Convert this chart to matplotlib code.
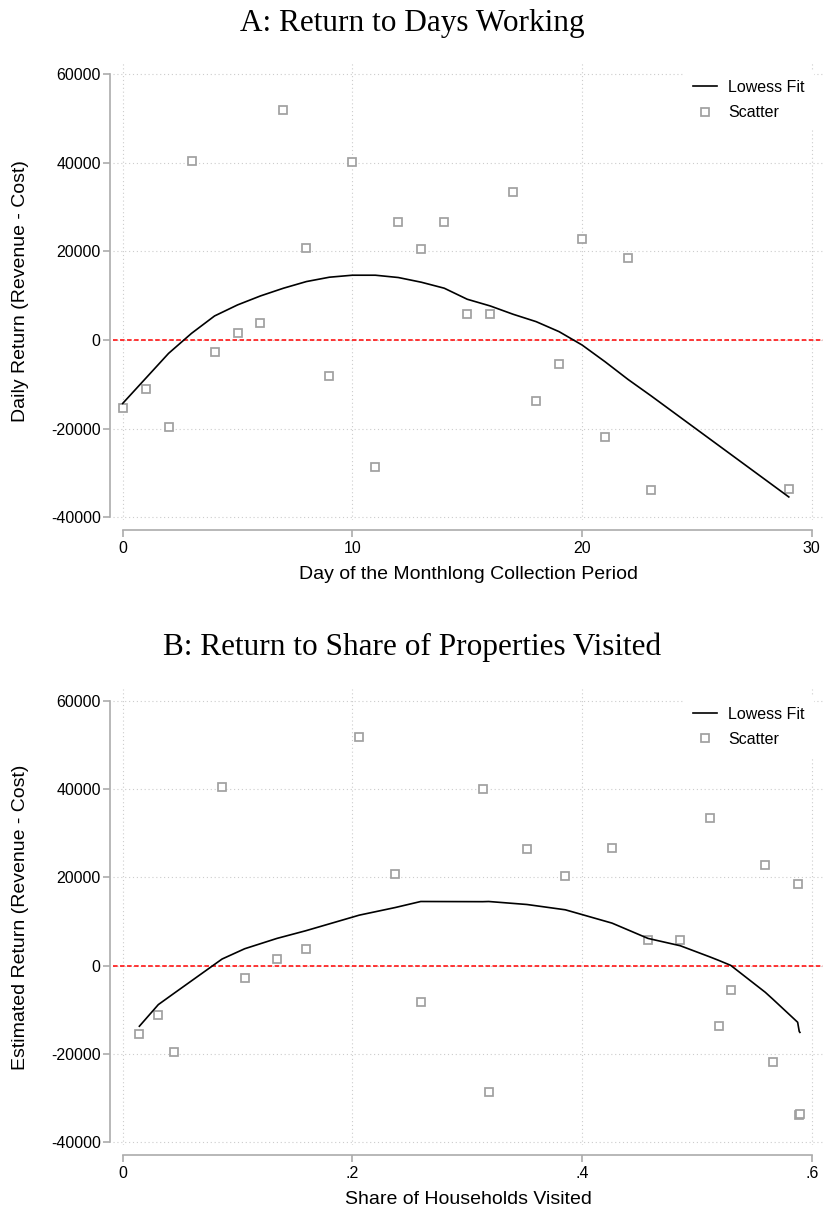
import matplotlib
matplotlib.use("Agg")
import matplotlib.pyplot as plt

# daily return (revenue - cost) by day of the collection period
day = [0, 1, 2, 3, 4, 5, 6, 7, 8, 9, 10, 11, 12, 13, 14, 15, 16, 17, 18, 19,
       20, 21, 22, 23, 29]
daily_return = [-15400, -11150, -19660, 40450, -2680, 1580, 3770, 51870, 20660,
                -8140, 40120, -28700, 26500, 20410, 26630, 5800, 5870, 33450,
                -13660, -5460, 22820, -21770, 18530, -33840, -33600]

# cumulative share of households visited on each of those days
share_visited = [0.0145, 0.0310, 0.0447, 0.0865, 0.1062, 0.1343, 0.1593, 0.2060,
                 0.2374, 0.2595, 0.3134, 0.3187, 0.3520, 0.3854, 0.4261, 0.4574,
                 0.4855, 0.5116, 0.5189, 0.5294, 0.5595, 0.5659, 0.5877, 0.5891,
                 0.5897]

# lowess smooth evaluated at each observation
lowess_day = [-14310, -8660, -3010, 1510, 5420, 7910, 9940, 11680, 13180, 14160,
              14610, 14610, 14090, 13030, 11680, 9190, 7680, 5800, 4140, 1880,
              -1130, -4900, -8890, -12580, -35400]
lowess_share = [-13710, -8810, -6250, 1510, 3840, 6180, 7910, 11450, 13180, 14540,
                14500, 14540, 13860, 12660, 9640, 6180, 4520, 1960, 1210, 80,
                -6020, -7530, -12810, -14900, -15100]

y_ticks = [-40000, -20000, 0, 20000, 40000, 60000]
y_ticklabels = ["-40000", "-20000", "0", "20000", "40000", "60000"]
day_ticks = [0, 10, 20, 30]
day_ticklabels = ["0", "10", "20", "30"]
share_ticks = [0, 0.2, 0.4, 0.6]
share_ticklabels = ["0", ".2", ".4", ".6"]

SANS = "Liberation Sans"
SERIF = "Liberation Serif"
AXIS_GRAY = "#ababab"
MARK_GRAY = "#a0a0a0"

fig = plt.figure(figsize=(8.25, 12.13), dpi=100)


def panel(rect, x, y, fit, xticks, xticklabels, xlim, xlabel, ylabel):
    ax = fig.add_axes(rect)
    ax.set_xlim(*xlim)
    ax.set_ylim(-40600, 62700)

    ax.grid(True, color="#cccccc", lw=0.8, linestyle=(0, (1, 2.5)), zorder=0)
    ax.set_axisbelow(True)

    ax.axhline(0, color="red", lw=1.1, linestyle=(0, (3, 1.6)), zorder=2)
    pts, = ax.plot(x, y, linestyle="none", marker="s", markersize=5.6,
                   markerfacecolor="white", markeredgecolor=MARK_GRAY,
                   markeredgewidth=1.25, zorder=3)
    fitline, = ax.plot(x, fit, color="black", lw=1.2, zorder=4)

    for s in ["top", "right"]:
        ax.spines[s].set_visible(False)
    ax.spines["left"].set_position(("outward", 2.2))
    ax.spines["bottom"].set_position(("outward", 7.2))
    ax.spines["left"].set_bounds(y_ticks[0], y_ticks[-1])
    ax.spines["bottom"].set_bounds(xticks[0], xticks[-1])
    for s in ["left", "bottom"]:
        ax.spines[s].set_color(AXIS_GRAY)
        ax.spines[s].set_linewidth(1.2)

    ax.set_yticks(y_ticks)
    ax.set_yticklabels(y_ticklabels, family=SANS, fontsize=11.5)
    ax.set_xticks(xticks)
    ax.set_xticklabels(xticklabels, family=SANS, fontsize=11.5)
    ax.tick_params(axis="both", direction="out", length=5.2, width=1.2,
                   color=AXIS_GRAY, labelcolor="black")
    ax.tick_params(axis="y", pad=1.5)
    ax.tick_params(axis="x", pad=2.5)

    ax.set_xlabel(xlabel, family=SANS, fontsize=14, va="center")
    ax.xaxis.set_label_coords(0.5, -0.120)
    ax.set_ylabel(ylabel, family=SANS, fontsize=14, va="center")
    ax.yaxis.set_label_coords(-0.131, 0.5)

    leg = ax.legend([fitline, pts], ["Lowess Fit", "Scatter"],
                    loc="upper left", bbox_to_anchor=(0.803, 0.982),
                    frameon=True, facecolor="white", edgecolor="none",
                    framealpha=1, fancybox=False, borderpad=0.6,
                    borderaxespad=0, handlelength=1.5, handletextpad=0.7,
                    labelspacing=0.65, prop={"family": SANS, "size": 11.5})
    leg.set_zorder(5)
    return ax


panel([0.137, 0.5713, 0.8606, 0.3776], day, daily_return, lowess_day,
      day_ticks, day_ticklabels, (-0.42, 30.49),
      "Day of the Monthlong Collection Period",
      "Daily Return (Revenue - Cost)")
fig.text(0.5, 1 - 23 / 1213, "A: Return to Days Working", family=SERIF,
         fontsize=22.5, ha="center", va="center")

panel([0.137, 0.0561, 0.8606, 0.3760], share_visited, daily_return, lowess_share,
      share_ticks, share_ticklabels, (-0.00845, 0.6098),
      "Share of Households Visited",
      "Estimated Return (Revenue - Cost)")
fig.text(0.5, 1 - 647 / 1213, "B: Return to Share of Properties Visited",
         family=SERIF, fontsize=22.5, ha="center", va="center")

fig.savefig("out.png", dpi=100, facecolor="white")
